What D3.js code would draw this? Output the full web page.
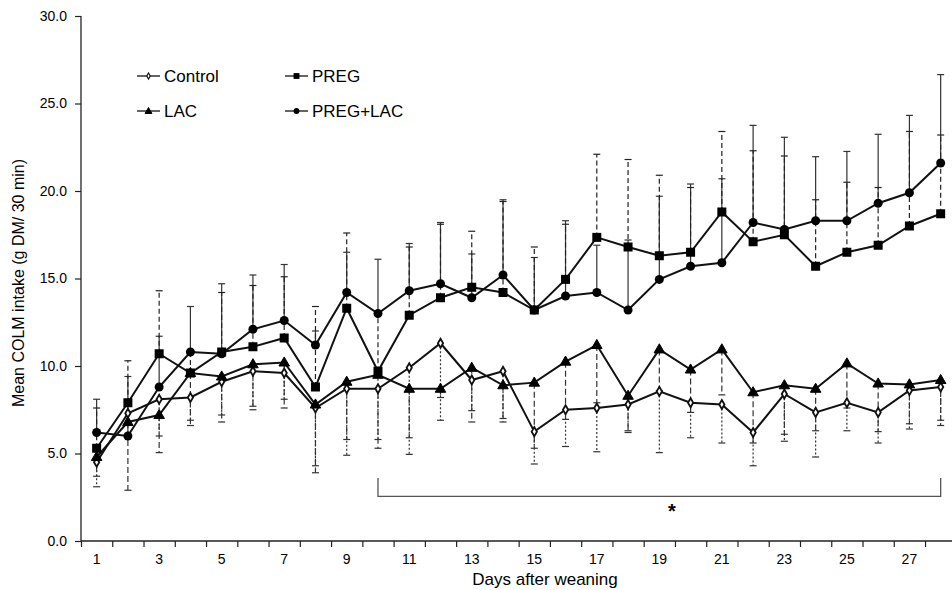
<!DOCTYPE html>
<html><head><meta charset="utf-8">
<script src="https://cdn.jsdelivr.net/npm/d3@7"></script>
<style>body{margin:0;background:#fff}svg{display:block}text{font-family:"Liberation Sans",Arial,sans-serif;fill:#000}</style>
</head><body><svg id="c" width="952" height="590"></svg>
<script>
const days = d3.range(1, 29);
const xTickLabels = [1,3,5,7,9,11,13,15,17,19,21,23,25,27];
const yTickValues = [0,5,10,15,20,25,30];

const control = [4.5,7.3,8.1,8.2,9.1,9.7,9.6,7.6,8.7,8.7,9.9,11.3,9.2,9.7,6.25,7.5,7.6,7.8,8.55,7.9,7.8,6.2,8.4,7.35,7.9,7.35,8.6,8.8];
const controlSE = [1.4,0.6,2.1,1.3,1.9,2.0,1.5,3.3,3.8,2.9,4.95,4.4,1.75,2.7,1.85,2.1,2.5,1.6,3.5,2.0,2.2,1.9,2.7,2.55,1.6,1.75,2.2,2.2];

const preg = [5.3,7.9,10.7,9.6,10.8,11.1,11.6,8.8,13.3,9.7,12.9,13.9,14.5,14.2,13.2,14.95,17.35,16.8,16.3,16.5,18.8,17.1,17.5,15.7,16.5,16.9,18.0,18.7];
const pregSE = [2.3,2.4,3.6,1.1,3.4,3.5,3.5,4.6,4.3,3.2,3.9,4.2,3.2,5.2,3.6,3.15,4.75,5.0,4.6,3.7,4.6,5.2,4.5,3.8,4.0,3.3,5.4,4.5];

const lac = [4.8,6.8,7.2,9.6,9.4,10.1,10.2,7.8,9.1,9.5,8.7,8.7,9.9,8.9,9.05,10.25,11.2,8.3,10.95,9.8,10.95,8.5,8.9,8.7,10.15,9.0,8.95,9.2];
const lacSE = [1.1,3.9,2.15,3.0,2.6,2.6,2.6,3.9,3.3,4.2,2.8,0.5,3.1,2.1,3.75,3.3,3.3,2.0,2.35,2.45,2.6,2.9,2.8,2.4,2.55,2.75,2.25,2.3];

const pregLac = [6.2,6.0,8.8,10.8,10.7,12.1,12.6,11.2,14.2,13.0,14.3,14.7,13.9,15.2,13.2,14.0,14.2,13.2,14.95,15.7,15.9,18.2,17.8,18.3,18.3,19.3,19.9,21.6];
const pregLacSE = [1.9,3.4,2.9,2.6,4.0,3.1,3.2,0.8,2.3,3.1,2.7,3.5,2.5,4.3,3.0,4.3,2.7,4.0,4.75,4.7,4.8,5.55,5.27,3.66,3.96,3.94,4.42,5.05];

const seriesNames = ["Control","PREG","LAC","PREG+LAC"];
const bracketRange = [10, 28];
const bracketLevel = 2.55;
const bracketTick = 3.6;
const starPos = [19.4, 1.3];

const svg = d3.select("#c");
const x = d3.scaleLinear().domain([0.5, 28.5]).range([81, 956.3]);
const y = d3.scaleLinear().domain([0, 30]).range([541, 16]);

// axes
const xAxis = d3.axisBottom(x).tickValues(d3.range(0.5, 28.6, 1)).tickSize(6).tickFormat("");
const gx = svg.append("g").attr("transform","translate(0,541)").call(xAxis);
gx.select(".domain").attr("d","M81,0H952").attr("stroke","#222").attr("stroke-width",1.3);
gx.selectAll(".tick line").attr("stroke","#222").attr("stroke-width",1.2);
svg.append("g").selectAll("text").data(xTickLabels).join("text")
  .attr("x", d => x(d)).attr("y", 564).attr("text-anchor","middle")
  .attr("font-size", 14).text(d => d);

const yAxis = d3.axisLeft(y).tickValues(yTickValues).tickSize(6).tickPadding(8).tickFormat(d3.format(".1f"));
const gy = svg.append("g").attr("transform","translate(81,0)").call(yAxis);
gy.select(".domain").attr("d","M0,541V16").attr("stroke","#222").attr("stroke-width",1.3);
gy.selectAll(".tick line").attr("stroke","#222").attr("stroke-width",1.2);
gy.selectAll(".tick text").attr("font-size",14).attr("font-family","Liberation Sans, Arial, sans-serif").attr("fill","#000");

svg.append("text").attr("x", 545).attr("y", 585).attr("text-anchor","middle").attr("font-size",17).text("Days after weaning");
svg.append("text").attr("transform","translate(24,283) rotate(-90)").attr("text-anchor","middle").attr("font-size",16).text("Mean COLM intake (g DM/ 30 min)");

// error bars
const errSpecs = [
  {v: pregLac, se: pregLacSE, dir: 1, dash: null, color:"#333"},
  {v: preg, se: pregSE, dir: 1, dash: "5,3", color:"#222"},
  {v: lac, se: lacSE, dir: -1, dash: "6,3", color:"#333"},
  {v: control, se: controlSE, dir: -1, dash: "2,2", color:"#333"}
];
errSpecs.forEach(s => {
  const g = svg.append("g");
  g.selectAll("line.bar").data(days).join("line")
    .attr("x1", d => x(d)).attr("x2", d => x(d))
    .attr("y1", (d,i) => y(s.v[i])).attr("y2", (d,i) => y(s.v[i] + s.dir*s.se[i]))
    .attr("stroke", s.color).attr("stroke-width", 1.2).attr("stroke-dasharray", s.dash);
  g.selectAll("line.cap").data(days).join("line")
    .attr("x1", d => x(d)-3.5).attr("x2", d => x(d)+3.5)
    .attr("y1", (d,i) => y(s.v[i] + s.dir*s.se[i])).attr("y2", (d,i) => y(s.v[i] + s.dir*s.se[i]))
    .attr("stroke", s.color).attr("stroke-width", 1.2);
});

// lines
const line = d3.line().x((d,i) => x(days[i])).y(d => y(d));
[control, lac, preg, pregLac].forEach(arr => {
  svg.append("path").datum(arr).attr("d", line).attr("fill","none").attr("stroke","#111").attr("stroke-width",2);
});

// markers
function marker(g, type, cx, cy, scale) {
  const k = scale || 1;
  if (type === "Control") {
    g.append("path").attr("d", d3.symbol(d3.symbolDiamond, 24*k*k)()).attr("transform",`translate(${cx},${cy})`)
      .attr("fill","#fff").attr("stroke","#111").attr("stroke-width",1.8*k);
  } else if (type === "PREG") {
    g.append("rect").attr("x", cx-4.5*k).attr("y", cy-4.5*k).attr("width", 9*k).attr("height", 9*k).attr("fill","#000");
  } else if (type === "LAC") {
    g.append("path").attr("d", d3.symbol(d3.symbolTriangle, 48*k*k)()).attr("transform",`translate(${cx},${cy+0.5})`)
      .attr("fill","#000").attr("stroke","#000").attr("stroke-width",1);
  } else {
    g.append("circle").attr("cx", cx).attr("cy", cy).attr("r", 4.5*k).attr("fill","#000");
  }
}
const mg = svg.append("g");
[["Control",control],["LAC",lac],["PREG",preg],["PREG+LAC",pregLac]].forEach(([n,arr]) => {
  arr.forEach((v,i) => marker(mg, n, x(days[i]), y(v)));
});

// legend
const leg = [
  {n:"Control", lx:137, ly:76},
  {n:"PREG", lx:285, ly:76},
  {n:"LAC", lx:137, ly:111},
  {n:"PREG+LAC", lx:285, ly:111}
];
leg.forEach(l => {
  const g = svg.append("g");
  g.append("line").attr("x1", l.lx).attr("x2", l.lx+23).attr("y1", l.ly).attr("y2", l.ly).attr("stroke","#111").attr("stroke-width",1.3);
  marker(g, l.n, l.lx+11.5, l.ly, 0.65);
  g.append("text").attr("x", l.lx+27).attr("y", l.ly+6).attr("font-size",17).text(l.n);
});

// significance bracket
svg.append("path")
  .attr("d", `M${x(bracketRange[0])},${y(bracketTick)}V${y(bracketLevel)}H${x(bracketRange[1])}V${y(bracketTick)}`)
  .attr("fill","none").attr("stroke","#555").attr("stroke-width",1.3);
svg.append("text").attr("x", x(starPos[0])).attr("y", y(starPos[1])).attr("text-anchor","middle")
  .attr("font-size",20).attr("font-weight","bold").text("*");
</script></body></html>
